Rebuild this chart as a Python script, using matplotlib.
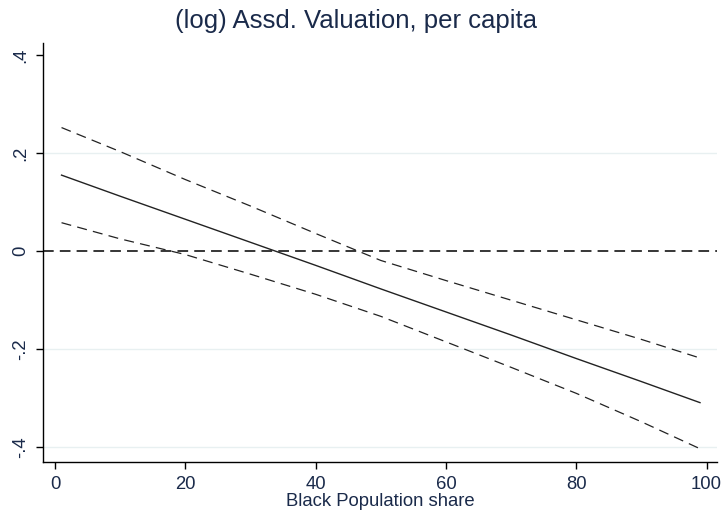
import matplotlib
matplotlib.use('Agg')
import matplotlib.pyplot as plt
import numpy as np

plt.rcParams['font.family'] = ['Liberation Sans', 'DejaVu Sans']

# values
share = [1, 10, 20, 30, 40, 50, 60, 70, 80, 90, 99]
effect = [0.155, 0.112, 0.065, 0.018, -0.029, -0.077, -0.124, -0.171, -0.219, -0.266, -0.309]
ci_hi = [0.252, 0.203, 0.146, 0.092, 0.036, -0.019, -0.060, -0.100, -0.140, -0.180, -0.218]
ci_lo = [0.058, 0.025, -0.007, -0.047, -0.088, -0.133, -0.185, -0.237, -0.290, -0.348, -0.403]

yticks = [-0.4, -0.2, 0, 0.2, 0.4]
ylabels = ['-.4', '-.2', '0', '.2', '.4']
xticks = [0, 20, 40, 60, 80, 100]

navy = '#1a2a4a'

fig = plt.figure(figsize=(7.22, 5.14), dpi=100)
ax = fig.add_axes([0.0596, 0.1018, 0.9334, 0.814])

for g in [0.2, -0.2, -0.4]:
    ax.axhline(g, color='#e8f0f1', lw=1.0, zorder=0)

ax.axhline(0, color='black', lw=1.1, dashes=(7, 4), zorder=2)
ax.plot(share, effect, color='#222222', lw=1.0, zorder=3)
ax.plot(share, ci_hi, color='#222222', lw=0.9, dashes=(8, 5), zorder=3)
ax.plot(share, ci_lo, color='#222222', lw=0.9, dashes=(8, 5), zorder=3)

ax.set_xlim(-1.84, 101.6)
ax.set_ylim(-0.4294, 0.4239)
ax.set_xticks(xticks)
ax.set_yticks(yticks)
ax.set_yticklabels(ylabels, rotation=90, va='center')

for s in ['top', 'right']:
    ax.spines[s].set_visible(False)
for s in ['left', 'bottom']:
    ax.spines[s].set_linewidth(1.0)
    ax.spines[s].set_color('black')

ax.tick_params(axis='both', direction='out', length=5, width=1.0, labelsize=13.3,
               labelcolor=navy, colors='black')
ax.tick_params(axis='x', pad=5)
ax.tick_params(axis='y', pad=5)
for lab in ax.get_xticklabels() + ax.get_yticklabels():
    lab.set_color(navy)

ax.set_xlabel('Black Population share', fontsize=13.3, color=navy, labelpad=0)
fig.suptitle('(log) Assd. Valuation, per capita', fontsize=18.5, color=navy,
             x=0.493, y=0.982)

fig.savefig('out.png', dpi=100)
